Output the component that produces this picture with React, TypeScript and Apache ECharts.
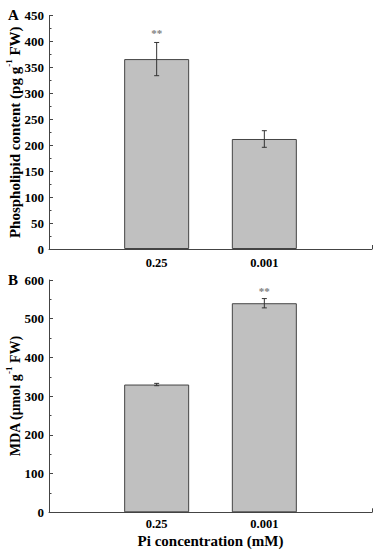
import React, { useEffect, useRef } from "react";
import * as echarts from "echarts";

const categories = ["", "0.25", "0.001", ""];
const phospholipid = [null, 366, 212, null];
const phospholipidErr = [0, 32, 16, 0];
const phospholipidSig = ["", "**", "", ""];
const mda = [null, 330, 540, null];
const mdaErr = [0, 3, 12, 0];
const mdaSig = ["", "", "**", ""];

const FONT = "Liberation Serif";
const AXIS = "#444";

function errSeries(xi: number, yi: number, vals: (number | null)[], errs: number[], sig: string[], gap: number) {
  const data = vals
    .map((v, i) => (v == null ? null : [i, v, errs[i], sig[i]]))
    .filter((d) => d != null);
  return {
    type: "custom",
    xAxisIndex: xi,
    yAxisIndex: yi,
    z: 5,
    data,
    renderItem: (params: any, api: any) => {
      const x = api.value(0);
      const v = api.value(1);
      const e = api.value(2);
      const s = api.value(3);
      const hi = api.coord([x, v + e]);
      const lo = api.coord([x, v - e]);
      const w = 2.5;
      const st = { stroke: "#333", lineWidth: 1 };
      const children: any[] = [
        { type: "line", shape: { x1: hi[0], y1: hi[1], x2: lo[0], y2: lo[1] }, style: st },
        { type: "line", shape: { x1: hi[0] - w, y1: hi[1], x2: hi[0] + w, y2: hi[1] }, style: st },
        { type: "line", shape: { x1: lo[0] - w, y1: lo[1], x2: lo[0] + w, y2: lo[1] }, style: st },
      ];
      if (s) {
        children.push({
          type: "text",
          x: hi[0],
          y: hi[1] - gap,
          style: {
            text: s,
            fill: "#808080",
            font: `bold 11px "${FONT}"`,
            align: "center",
            verticalAlign: "middle",
          },
        });
      }
      return { type: "group", children };
    },
  };
}

export default function App() {
  const ref = useRef<HTMLDivElement>(null);
  useEffect(() => {
    const chart = echarts.init(ref.current!, null, { renderer: "svg" });
    const axisLine = { show: true, lineStyle: { color: AXIS, width: 1 } };
    const labelStyle = { fontFamily: FONT, fontWeight: "bold", fontSize: 13, color: "#000" };
    const yAxisBase = (max: number, interval: number, name: string, nameGap: number, fs: number) => ({
      type: "value",
      min: 0,
      max,
      interval,
      axisLine,
      axisTick: { show: true, inside: true, length: 4, lineStyle: { color: AXIS } },
      minorTick: { show: true, splitNumber: 2, length: 2.5, lineStyle: { color: AXIS } },
      splitLine: { show: false },
      axisLabel: { ...labelStyle, margin: 5 },
      name,
      nameLocation: "middle",
      nameGap,
      nameMoveOverlap: false,
      nameTextStyle: {
        rich: {
          b: { fontFamily: FONT, fontWeight: "bold", fontSize: fs, color: "#000", lineHeight: 18, verticalAlign: "bottom" },
          s: { fontFamily: FONT, fontWeight: "bold", fontSize: 9, color: "#000", lineHeight: 18, verticalAlign: "top" },
        },
      },
    });
    const xAxisBase = (gi: number, margin: number, name?: string) => ({
      type: "category",
      gridIndex: gi,
      data: categories,
      boundaryGap: false,
      axisLine,
      axisTick: { show: true, inside: true, length: 4, interval: (i: number) => i === 3, lineStyle: { color: AXIS } },
      axisLabel: { ...labelStyle, fontSize: 12.5, interval: 0, margin },
      name,
      nameLocation: "middle",
      nameGap: 21,
      nameMoveOverlap: false,
      nameTextStyle: { fontFamily: FONT, fontWeight: "bold", fontSize: 15, color: "#000", verticalAlign: "top" },
    });
    const barStyle = { color: "#c0c0c0", borderColor: "#444", borderWidth: 1 };
    chart.setOption({
      animation: false,
      backgroundColor: "#fff",
      grid: [
        { left: 49, right: 9, top: 15.5, height: 233.5, outerBoundsMode: "none", containLabel: false },
        { left: 49, right: 9, top: 280, height: 232.3, outerBoundsMode: "none", containLabel: false },
      ],
      xAxis: [xAxisBase(0, 7), { ...xAxisBase(1, 5, "Pi concentration (mM)"), gridIndex: 1 }],
      yAxis: [
        yAxisBase(450, 50, "{b|Phospholipid content (pg g}{s|-1}{b| FW)}", 27, 15),
        { ...yAxisBase(600, 100, "{b|MDA (μmol g}{s|-1}{b| FW)}", 27, 14), gridIndex: 1 },
      ],
      series: [
        { type: "bar", xAxisIndex: 0, yAxisIndex: 0, data: phospholipid, barWidth: 65, itemStyle: barStyle },
        { type: "bar", xAxisIndex: 1, yAxisIndex: 1, data: mda, barWidth: 65, itemStyle: barStyle },
        errSeries(0, 0, phospholipid, phospholipidErr, phospholipidSig, 9),
        errSeries(1, 1, mda, mdaErr, mdaSig, 8),
      ],
      graphic: [
        { type: "text", left: 8, top: 7, style: { text: "A", font: `bold 15px "${FONT}"`, fill: "#000" } },
        { type: "text", left: 8, top: 272, style: { text: "B", font: `bold 15px "${FONT}"`, fill: "#000" } },
      ],
    });
    return () => chart.dispose();
  }, []);
  return <div ref={ref} style={{ position: "fixed", left: 0, top: 0, width: 381, height: 550 }} />;
}
